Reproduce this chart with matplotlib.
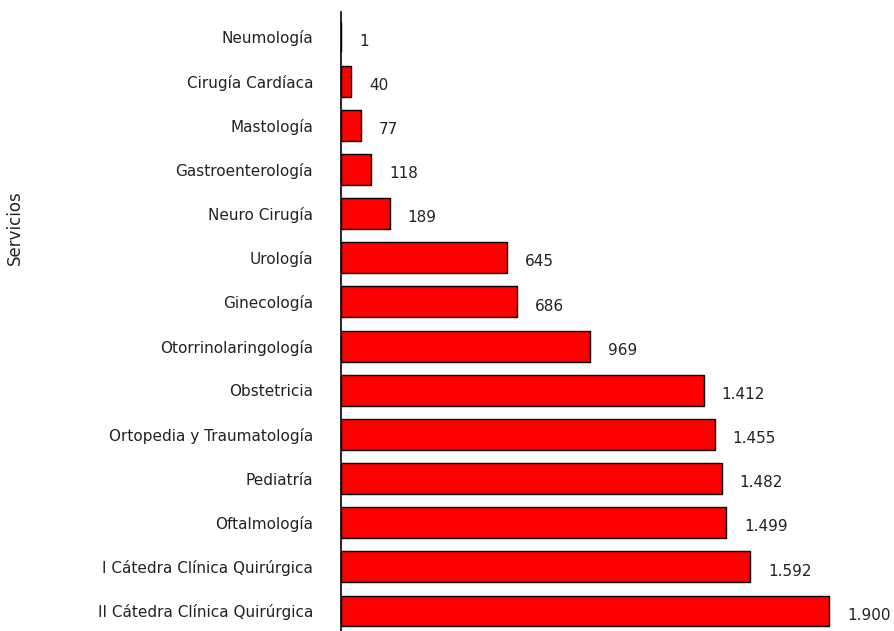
import matplotlib.pyplot as plt

servicios = ['Neumología', 'Cirugía Cardíaca', 'Mastología', 'Gastroenterología',
             'Neuro Cirugía', 'Urología', 'Ginecología', 'Otorrinolaringología',
             'Obstetricia', 'Ortopedia y Traumatología', 'Pediatría', 'Oftalmología',
             'I Cátedra Clínica Quirúrgica', 'II Cátedra Clínica Quirúrgica']
valores = [1, 40, 77, 118, 189, 645, 686, 969, 1412, 1455, 1482, 1499, 1592, 1900]
etiquetas = ['1', '40', '77', '118', '189', '645', '686', '969',
             '1.412', '1.455', '1.482', '1.499', '1.592', '1.900']

fig = plt.figure(figsize=(8.95, 6.31), dpi=100)
ax = fig.add_axes([0.381, 0.0, 0.619, 0.981])

pos = list(range(len(servicios)))
ax.barh(pos, valores, height=0.70, color='#FF0000', edgecolor='black', linewidth=1)

for p, v, t in zip(pos, valores, etiquetas):
    ax.annotate(t, (v, p), xytext=(13, -3), textcoords='offset points',
                ha='left', va='center', fontsize=11, color='#222222')

ax.set_yticks(pos)
ax.set_yticklabels(servicios, fontsize=11, color='#222222')
ax.tick_params(axis='y', length=0, pad=20)
ax.set_xticks([])
ax.set_xlim(0, 2157)
ax.set_ylim(len(servicios) - 1 + 0.453, -0.566)
for s in ['top', 'right', 'bottom']:
    ax.spines[s].set_visible(False)
ax.spines['left'].set_linewidth(1.2)

fig.text(0.017, 0.640, 'Servicios', rotation=90, ha='center', va='center', fontsize=12,
         color='#222222')

plt.savefig('out.png', dpi=100)
